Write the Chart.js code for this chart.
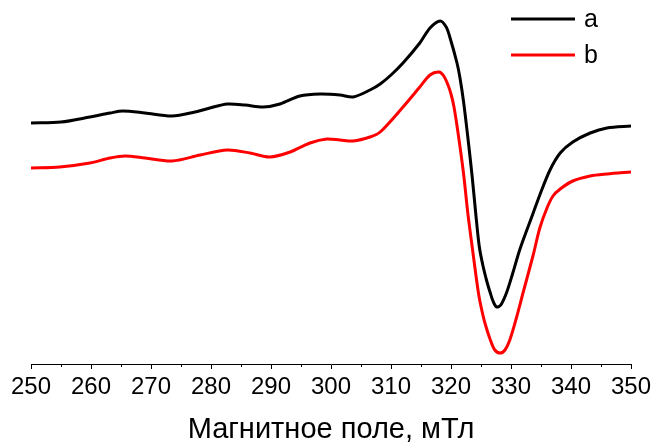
<!DOCTYPE html>
<html>
<head>
<meta charset="utf-8">
<script src="https://cdn.jsdelivr.net/npm/chart.js@4/dist/chart.umd.min.js"></script>
<style>
html,body{margin:0;padding:0;background:#fff;}
#wrap{width:652px;height:443px;}
</style>
</head>
<body>
<div id="wrap"><canvas id="c" width="652" height="443"></canvas></div>
<script>
// Field (mT) and EPR signal (a.u.) for spectrum a
const fieldA = [250.0,255.0,259.8,263.2,265.3,269.0,273.5,277.3,279.8,282.7,285.7,288.7,291.5,294.8,298.2,301.5,303.7,306.5,308.2,310.0,312.0,314.8,316.5,318.2,319.2,319.8,321.0,321.5,322.1,322.8,323.5,324.1,324.7,325.3,326.0,326.5,327.0,327.6,328.3,329.3,330.3,331.5,333.7,334.8,336.5,338.2,340.3,343.2,346.0,350.0];
const signalA = [241,242,247,251,253,251,248,252,256,260,259,257,260,268,270,269,267,274,280,289,301,321,336,343,337,327,301,286,262,227,189,152,118,99,82,72,63,57,59,72,91,115,151,169,194,211,222,231,236,238];
// Field (mT) and EPR signal (a.u.) for spectrum b
const fieldB = [250.0,254.8,259.8,263.2,265.7,269.0,273.5,278.2,282.7,286.5,289.8,293.2,296.5,299.3,301.5,303.7,306.5,308.2,312.0,314.8,316.5,318.0,318.8,319.5,320.0,320.5,321.2,322.1,322.8,323.6,324.6,325.2,325.7,326.5,327.3,328.2,329.0,329.8,330.9,332.0,333.7,334.8,336.0,337.0,338.2,340.3,343.2,346.0,350.0];
const signalB = [196,197,201,206,208,206,203,209,214,211,207,212,221,225,224,223,227,232,257,277,289,292,288,279,270,257,230,190,151,114,70,52,40,25,14,11,14,24,46,71,109,136,156,168,175,183,188,190,192];
const seriesLabels = ['a','b'];
const seriesColors = ['#000000','#ff0000'];
const xMin = 250, xMax = 350, xStep = 5;
const xTitle = 'Магнитное поле, мТл';

const toPoints = (xs, ys) => xs.map((x, i) => ({x: x, y: ys[i]}));

const legendPlugin = {
  id: 'cornerLegend',
  afterDraw(chart) {
    const ctx = chart.ctx;
    ctx.save();
    chart.data.datasets.forEach((ds, i) => {
      const y = 19 + i * 36;
      ctx.strokeStyle = ds.borderColor;
      ctx.lineWidth = 3;
      ctx.beginPath();
      ctx.moveTo(511, y);
      ctx.lineTo(575, y);
      ctx.stroke();
      ctx.fillStyle = '#000';
      ctx.font = '25px "Liberation Sans", Arial, sans-serif';
      ctx.textBaseline = 'middle';
      ctx.textAlign = 'left';
      ctx.fillText(ds.label, 584, y + 1);
    });
    ctx.restore();
  }
};

const minorTickPlugin = {
  id: 'minorTicks',
  afterDraw(chart) {
    const sx = chart.scales.x;
    const ctx = chart.ctx;
    ctx.save();
    ctx.strokeStyle = '#000';
    ctx.lineWidth = 1;
    sx.ticks.forEach(t => {
      if (t.value % 10 !== 0) {
        const px = Math.round(sx.getPixelForValue(t.value)) + 0.5;
        ctx.beginPath();
        ctx.moveTo(px, sx.top);
        ctx.lineTo(px, sx.top + 3);
        ctx.stroke();
      }
    });
    ctx.restore();
  }
};

new Chart(document.getElementById('c'), {
  type: 'line',
  data: {
    datasets: [
      {label: seriesLabels[0], data: toPoints(fieldA, signalA), borderColor: seriesColors[0], borderWidth: 3, pointRadius: 0, tension: 0.3, fill: false},
      {label: seriesLabels[1], data: toPoints(fieldB, signalB), borderColor: seriesColors[1], borderWidth: 3, pointRadius: 0, tension: 0.3, fill: false}
    ]
  },
  options: {
    responsive: false,
    animation: false,
    layout: {padding: {left: 31, right: 21, top: 0, bottom: 0}},
    plugins: {legend: {display: false}, tooltip: {enabled: false}},
    scales: {
      x: {
        type: 'linear',
        min: xMin, max: xMax,
        afterFit: (s) => { s.height = 79; s.paddingLeft = 0; s.paddingRight = 0; },
        border: {display: true, color: '#000', width: 1},
        grid: {
          drawOnChartArea: false,
          drawTicks: true,
          tickLength: 5,
          tickColor: (c) => (c.tick && c.tick.value % 10 === 0) ? '#000' : 'rgba(0,0,0,0)'
        },
        ticks: {
          stepSize: xStep,
          autoSkip: false,
          maxRotation: 0,
          padding: 4,
          color: '#000',
          font: {family: '"Liberation Sans", Arial, sans-serif', size: 24},
          callback: (v) => (v % 10 === 0 ? String(v) : '')
        },
        title: {
          display: true,
          text: xTitle,
          color: '#000',
          font: {family: '"Liberation Sans", Arial, sans-serif', size: 29, lineHeight: 0.9},
          padding: {top: 0, bottom: 0}
        }
      },
      y: {
        display: false,
        min: 0, max: 364
      }
    }
  },
  plugins: [legendPlugin, minorTickPlugin]
});
</script>
</body>
</html>
